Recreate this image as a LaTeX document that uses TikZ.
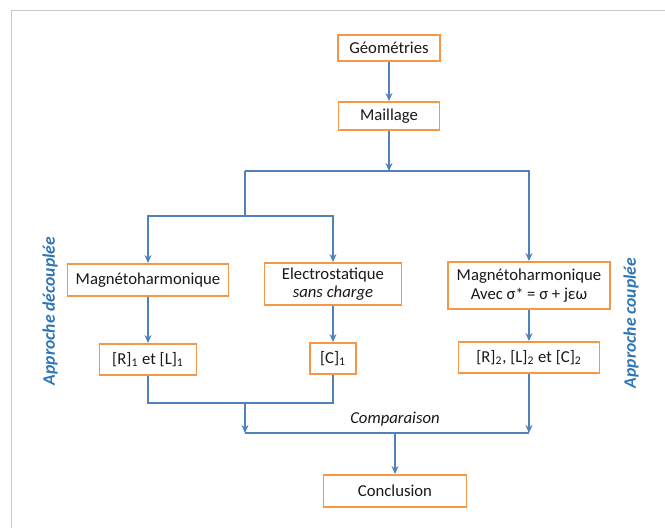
\documentclass[tikz,border=0pt]{standalone}
\usepackage{fontspec}
\setmainfont{Carlito}
\usepackage{tikz}
\usetikzlibrary{arrows.meta, positioning, calc}
\usepackage{xcolor}
\definecolor{boxorange}{RGB}{247,150,70}
\definecolor{flowblue}{RGB}{79,129,189}
\definecolor{sideblue}{RGB}{46,117,182}
\definecolor{framegrey}{RGB}{200,200,200}
\tikzstyle{stage} = [rectangle, draw=boxorange, line width=1.1pt, fill=white,
    text centered, align=center, inner sep=2pt, text=black!90,
    font=\fontsize{9.5}{11.5}\selectfont]
\tikzstyle{arrow} = [draw=flowblue, line width=0.6pt, -{Stealth[length=1.6mm, width=1.4mm]}]
\tikzstyle{link} = [draw=flowblue, line width=0.6pt]
\tikzstyle{side} = [font=\fontsize{10}{12}\selectfont\bfseries\itshape, text=sideblue, rotate=90]

\begin{document}
\begin{tikzpicture}
\useasboundingbox (0,0) rectangle (13.3,-10.56);
% --- cadre ---
\coordinate (framebl) at (0.23,-10.56);
\coordinate (frametl) at (0.23,-0.21);
\coordinate (frametr) at (13.3,-0.21);
\draw[framegrey, line width=1.1pt] (framebl) -- (frametl) -- (frametr);

% --- tronc commun ---
\node (geo) [stage, minimum width=2.04cm, minimum height=0.52cm] at (7.78,-0.96) {Géométries};
\node (maillage) [stage, minimum width=2.02cm, minimum height=0.56cm] at (7.78,-2.32) {Maillage};

% --- calculs ---
\node (magleft) [stage, minimum width=3.22cm, minimum height=0.64cm] at (2.96,-5.60) {Magnétoharmonique};
\node (electro) [stage, minimum width=2.74cm, minimum height=0.84cm] at (6.66,-5.68) {Electrostatique\\[-1pt] \textit{sans charge}};
\node (magright) [stage, minimum width=3.24cm, minimum height=0.94cm] at (10.58,-5.71) {Magnétoharmonique\\[-1pt] Avec σ{\small *} = σ + jεω};

% --- resultats ---
\node (rl1) [stage, minimum width=1.94cm, minimum height=0.62cm] at (2.96,-7.19) {[R]\textsubscript{1} et [L]\textsubscript{1}};
\node (c1) [stage, minimum width=0.92cm, minimum height=0.62cm] at (6.66,-7.17) {[C]\textsubscript{1}};
\node (rlc2) [stage, minimum width=2.82cm, minimum height=0.62cm] at (10.58,-7.15) {[R]\textsubscript{2}, [L]\textsubscript{2} et [C]\textsubscript{2}};

\node (concl) [stage, minimum width=2.86cm, minimum height=0.64cm] at (7.9,-9.82) {Conclusion};

% --- points de branchement ---
\coordinate (hub) at (7.78,-3.42);
\coordinate (hubL) at (4.9,-3.42);
\coordinate (hubL2) at (4.9,-4.32);
\coordinate (joinL) at (4.9,-8.06);
\coordinate (joinB) at (4.9,-8.66);
\coordinate (cmp) at (7.9,-8.66);
\node (cmplbl) [font=\fontsize{9.5}{11.5}\selectfont\itshape, text=black!90] at (7.9,-8.38) {Comparaison};

% --- approches ---
\node (decouplee) [side] at (1.0,-6.22) {Approche découplée};
\node (couplee) [side] at (12.62,-6.46) {Approche couplée};

% --- flèches ---
\draw[arrow] (geo) -- (maillage);
\draw[arrow] (maillage) -- (hub);
\draw[link] (hubL2) -- (hubL);
\draw[arrow] (hubL) -| (magright);
\draw[arrow] (hubL2) -| (magleft);
\draw[arrow] (hubL2) -| (electro);
\draw[arrow] (magleft) -- (rl1);
\draw[arrow] (electro) -- (c1);
\draw[arrow] (magright) -- (rlc2);
\draw[link] (rl1) |- (joinL) -| (c1);
\draw[arrow] (joinL) -- (joinB);
\draw[link] (joinB) -- (rlc2 |- joinB);
\draw[arrow] (rlc2) -- (rlc2 |- joinB);
\draw[arrow] (cmp) -- (concl);
\end{tikzpicture}
\end{document}
